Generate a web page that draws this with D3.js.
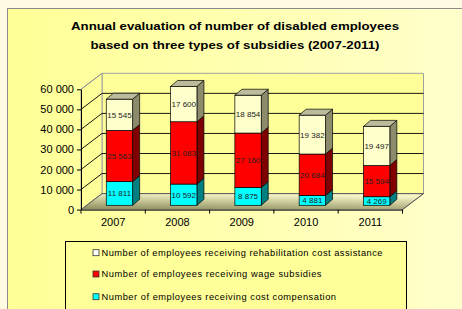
<!DOCTYPE html>
<html>
<head>
<meta charset="utf-8">
<script src="https://cdn.jsdelivr.net/npm/d3@7"></script>
<style>
  body { margin: 0; background: #fffbe2; }
  svg { display: block; font-family: Arial, "Liberation Sans", sans-serif; }
</style>
</head>
<body>
<script>
// data
const years = ["2007", "2008", "2009", "2010", "2011"];
const costComp = [11811, 10592, 8875, 4881, 4269];
const wageSub = [25563, 31083, 27160, 20684, 15594];
const rehab = [15545, 17600, 18854, 19382, 19497];
const yTicks = [0, 10000, 20000, 30000, 40000, 50000, 60000];
const seriesNames = [
    "Number of employees receiving rehabilitation cost assistance",
    "Number of employees receiving wage subsidies",
    "Number of employees receiving cost compensation"
];
const titleLines = [
    "Annual evaluation of number of disabled employees",
    "based on three types of subsidies (2007-2011)"
];

const width = 462;
const height = 309;

// 3d geometry
const depth = [21, -16];       // floor / wall depth
const barOff = [6.3, -4.3];    // bar front plane offset
const barDepth = [7, -6];

const faceCol = ["#00ffff", "#ff0000", "#ffffcc"];
const sideCol = ["#008080", "#800000", "#8c8c6c"];
const topCol = "#bcbc9c";

const svg = d3.select("body").append("svg")
    .attr("width", width)
    .attr("height", height);

const defs = svg.append("defs");
const bg = defs.append("linearGradient").attr("id", "bg")
    .attr("x1", 0).attr("x2", 1).attr("y1", 0).attr("y2", 0);
bg.append("stop").attr("offset", 0).attr("stop-color", "#ffff96");
bg.append("stop").attr("offset", 1).attr("stop-color", "#ffffcc");

const fl = defs.append("linearGradient").attr("id", "floor")
    .attr("x1", 0).attr("x2", 0.3).attr("y1", 1).attr("y2", 0);
fl.append("stop").attr("offset", 0).attr("stop-color", "#8a8a5c");
fl.append("stop").attr("offset", 1).attr("stop-color", "#f4f4c4");

// chart area
svg.append("rect")
    .attr("x", 7.5).attr("y", 8.5)
    .attr("width", width).attr("height", height)
    .attr("fill", "url(#bg)")
    .attr("stroke", "#8a8a8a");

// title
const titleLen = [328, 289];
svg.append("g").selectAll("text")
    .data(titleLines)
    .join("text")
    .attr("x", 235)
    .attr("y", (d, i) => 30 + i * 19)
    .attr("text-anchor", "middle")
    .attr("font-size", "11.6px")
    .attr("font-weight", "bold")
    .attr("textLength", (d, i) => titleLen[i])
    .attr("lengthAdjust", "spacingAndGlyphs")
    .text(d => d);

// scales
const xScale = d3.scaleBand()
    .domain(years)
    .range([81, 402.5]);

const yScale = d3.scaleLinear()
    .domain([0, 60000])
    .range([209.6, 89.3]);

const bw = xScale.bandwidth() * 0.41;

// walls
const x0 = xScale.range()[0], x1 = xScale.range()[1];
const yTop = yScale(60000), yBot = yScale(0);
const pts = p => p.map(q => q.join(",")).join(" ");

svg.append("polygon")
    .attr("points", pts([[x0 + depth[0], yTop + depth[1]], [x1 + depth[0], yTop + depth[1]],
                         [x1 + depth[0], yBot + depth[1]], [x0 + depth[0], yBot + depth[1]]]))
    .attr("fill", "#ffff99")
    .attr("stroke", "#a0a0a0");

svg.append("polygon")
    .attr("points", pts([[x0, yTop], [x0 + depth[0], yTop + depth[1]],
                         [x0 + depth[0], yBot + depth[1]], [x0, yBot]]))
    .attr("fill", "#ffff99")
    .attr("stroke", "#a0a0a0");

svg.append("polygon")
    .attr("points", pts([[x0, yBot], [x1, yBot],
                         [x1 + depth[0], yBot + depth[1]], [x0 + depth[0], yBot + depth[1]]]))
    .attr("fill", "url(#floor)")
    .attr("stroke", "#a0a0a0")
    .attr("stroke-width", 0.8);

// gridlines
const grid = svg.append("g").attr("stroke", "#000").attr("stroke-width", 0.9).attr("fill", "none");
yTicks.filter(v => v < 60000).forEach(v => {
    const y = yScale(v);
    grid.append("polyline")
        .attr("points", pts([[x0, y], [x0 + depth[0], y + depth[1]], [x1 + depth[0], y + depth[1]]]))
        .attr("stroke", v === 0 ? "#555" : "#000");
});
grid.append("line")
    .attr("x1", x0).attr("y1", yTop)
    .attr("x2", x0 + depth[0]).attr("y2", yTop + depth[1])
    .attr("stroke", "#909090");
grid.append("line")
    .attr("x1", x1).attr("y1", yBot)
    .attr("x2", x1 + depth[0]).attr("y2", yBot + depth[1])
    .attr("stroke", "#444");

// bars
const stacks = years.map((yr, i) => {
    const vals = [costComp[i], wageSub[i], rehab[i]];
    let c = 0;
    return vals.map((v, k) => {
        const seg = { year: yr, k: k, v: v, y0: c, y1: c + v };
        c += v;
        return seg;
    });
});

const bars = svg.append("g");
stacks.forEach((segs, i) => {
    const bx = xScale(years[i]) + xScale.bandwidth() / 2 - bw / 2 + barOff[0];
    const g = bars.append("g");
    segs.forEach(s => {
        const yt = yScale(s.y1) + barOff[1];
        const yb = yScale(s.y0) + barOff[1];
        // side
        g.append("polygon")
            .attr("points", pts([[bx + bw, yt], [bx + bw + barDepth[0], yt + barDepth[1]],
                                 [bx + bw + barDepth[0], yb + barDepth[1]], [bx + bw, yb]]))
            .attr("fill", sideCol[s.k])
            .attr("stroke", "#000").attr("stroke-width", 0.7);
        // front
        g.append("rect")
            .attr("x", bx).attr("y", yt)
            .attr("width", bw).attr("height", yb - yt)
            .attr("fill", faceCol[s.k])
            .attr("stroke", "#000").attr("stroke-width", 0.7);
        g.append("text")
            .attr("x", bx + bw / 2)
            .attr("y", (yt + yb) / 2 + 3)
            .attr("text-anchor", "middle")
            .attr("font-size", "8px")
            .attr("fill", "#222")
            .text(d3.format(",")(s.v).replace(",", " "));
    });
    // top
    const top = yScale(segs[2].y1) + barOff[1];
    g.append("polygon")
        .attr("points", pts([[bx, top], [bx + barDepth[0], top + barDepth[1]],
                             [bx + bw + barDepth[0], top + barDepth[1]], [bx + bw, top]]))
        .attr("fill", topCol)
        .attr("stroke", "#000").attr("stroke-width", 0.7);
});

// axes
const leftAxis = d3.axisLeft(yScale)
    .tickValues(yTicks)
    .tickSize(4)
    .tickSizeOuter(0)
    .tickPadding(3)
    .tickFormat(d => d3.format(",")(d).replace(",", " "));

svg.append("g")
    .attr("transform", "translate(" + x0 + ",0)")
    .call(leftAxis)
    .call(g => g.selectAll("text").attr("font-size", "11px").attr("fill", "#000").attr("font-family", null))
    .call(g => g.selectAll("line, path").attr("stroke", "#000"));

const bottomAxis = d3.axisBottom(xScale)
    .tickSize(0)
    .tickSizeOuter(0)
    .tickPadding(9);

svg.append("g")
    .attr("transform", "translate(0," + yBot + ")")
    .call(bottomAxis)
    .call(g => g.selectAll("text").attr("font-size", "11px").attr("fill", "#000").attr("font-family", null))
    .call(g => g.select("path").attr("stroke", "#000"));

svg.append("g").selectAll("line")
    .data(years.map(y => xScale(y)).concat([x1]))
    .join("line")
    .attr("x1", d => d).attr("x2", d => d)
    .attr("y1", yBot).attr("y2", yBot + 4)
    .attr("stroke", "#000");

// legend
const legend = svg.append("g");
legend.append("rect")
    .attr("x", 65.5).attr("y", 241.5)
    .attr("width", 341).attr("height", 80)
    .attr("fill", "#ffff99")
    .attr("stroke", "#000");

const legCol = ["#ffffff", "#ff0000", "#00ffff"];
const legLen = [281, 220, 234.5];
const rows = legend.selectAll("g.row")
    .data(seriesNames)
    .join("g")
    .attr("class", "row")
    .attr("transform", (d, i) => "translate(0," + [252.7, 274, 296.7][i] + ")");
rows.append("rect")
    .attr("x", 93).attr("y", -3)
    .attr("width", 6).attr("height", 6)
    .attr("fill", (d, i) => legCol[i])
    .attr("stroke", "#333").attr("stroke-width", 0.8);
rows.append("text")
    .attr("x", 101.5).attr("y", 3.4)
    .attr("font-size", "9.3px")
    .attr("textLength", (d, i) => legLen[i])
    .attr("lengthAdjust", "spacing")
    .text(d => d);
</script>
</body>
</html>
